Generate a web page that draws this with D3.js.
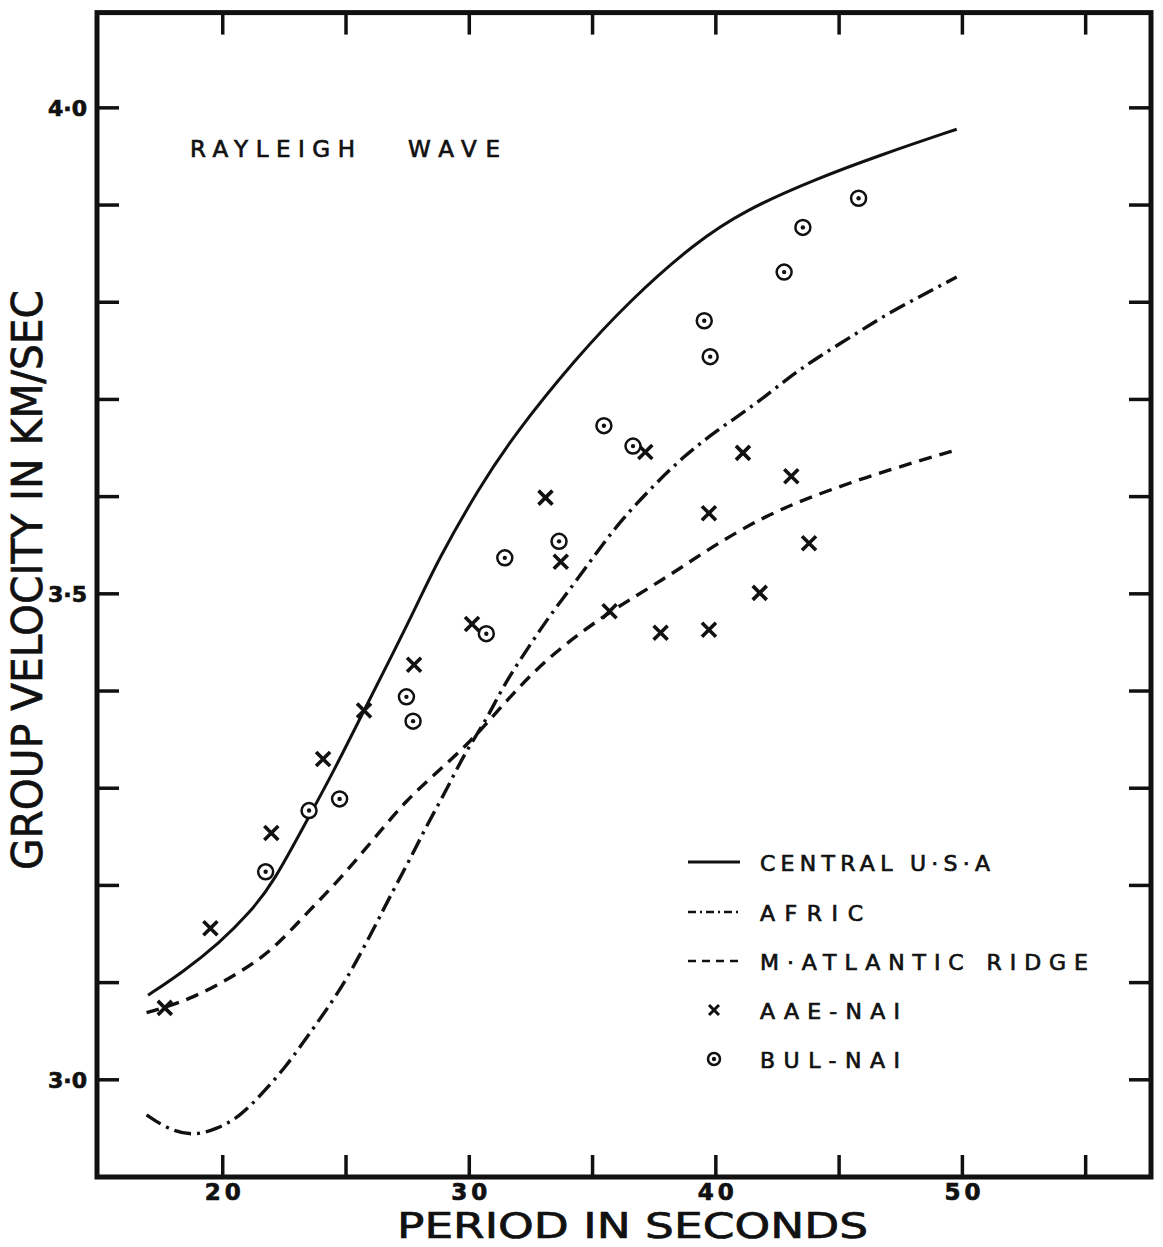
<!DOCTYPE html>
<html lang="en">
<head>
  <meta charset="UTF-8">
  <title>Rayleigh wave group velocity</title>
  <style>
    body { margin: 0; background: #fff; }
    svg { display: block; }
    text { font-family: "DejaVu Sans", sans-serif; fill: #111; stroke: #111; stroke-width: 0.7; }
  </style>
  <script src="https://d3js.org/d3.v7.min.js"></script>
</head>
<body>
  <svg id="chart" width="1163" height="1247"></svg>

  <script>
    // curves: [period (s), group velocity (km/s)]
    const centralUSA = [
      [16.97, 3.087], [18.39, 3.111], [19.88, 3.141], [21.09, 3.172], [22.04, 3.202],
      [23.50, 3.271], [24.47, 3.316], [25.73, 3.380], [26.91, 3.439], [27.85, 3.487],
      [28.73, 3.535], [30.42, 3.610], [31.83, 3.664], [34.31, 3.742], [36.52, 3.802],
      [39.14, 3.861], [41.21, 3.895], [43.97, 3.926], [46.73, 3.952], [49.77, 3.978]
    ];
    const afric = [
      [16.91, 2.964], [17.72, 2.950], [18.73, 2.942], [19.74, 2.949], [20.69, 2.962],
      [21.57, 2.985], [22.58, 3.014], [23.39, 3.043], [24.21, 3.072], [25.02, 3.103],
      [26.10, 3.154], [26.91, 3.195], [27.58, 3.226], [28.26, 3.261], [29.07, 3.298],
      [29.81, 3.336], [30.69, 3.370], [31.37, 3.405], [32.32, 3.442], [33.19, 3.475],
      [34.21, 3.509], [35.15, 3.542], [36.10, 3.574], [37.38, 3.609], [38.67, 3.641],
      [40.03, 3.668], [41.56, 3.694], [42.87, 3.721], [44.11, 3.743], [45.77, 3.769],
      [47.08, 3.790], [48.52, 3.809], [49.77, 3.826]
    ];
    const midAtlantic = [
      [16.91, 3.069], [18.66, 3.082], [20.69, 3.110], [22.04, 3.134], [23.39, 3.171],
      [24.74, 3.206], [26.10, 3.247], [27.45, 3.288], [28.80, 3.319], [30.15, 3.350],
      [31.77, 3.398], [33.39, 3.439], [35.69, 3.482], [37.84, 3.514], [39.87, 3.549],
      [42.05, 3.581], [44.08, 3.602], [46.10, 3.620], [48.13, 3.636], [49.75, 3.648]
    ];

    // observations
    const aaeNai = [
      [17.65, 3.074], [19.50, 3.156], [21.97, 3.254], [24.07, 3.330], [25.73, 3.380],
      [27.76, 3.427], [30.11, 3.469], [33.09, 3.599], [33.71, 3.533], [35.69, 3.482],
      [37.14, 3.646], [37.76, 3.460], [39.72, 3.583], [39.72, 3.463], [41.10, 3.645],
      [41.78, 3.501], [43.06, 3.621], [43.78, 3.552]
    ];
    const bulNai = [
      [21.74, 3.214], [23.50, 3.277], [24.74, 3.289], [27.45, 3.394], [27.72, 3.369],
      [30.69, 3.459], [31.44, 3.537], [33.64, 3.554], [35.46, 3.673], [36.64, 3.652],
      [39.53, 3.781], [39.77, 3.744], [42.77, 3.831], [43.53, 3.877], [45.79, 3.907]
    ];

    const xTicks = [20, 25, 30, 35, 40, 45, 50, 55];
    const xTickLabels = [20, 30, 40, 50];
    const yTicks = [3.0, 3.1, 3.2, 3.3, 3.4, 3.5, 3.6, 3.7, 3.8, 3.9, 4.0];
    const yTickLabels = [3.0, 3.5, 4.0];

    const legendItems = ['CENTRAL U·S·A', 'AFRIC', 'M·ATLANTIC RIDGE', 'AAE-NAI', 'BUL-NAI'];

    const svg = d3.select('#chart');

    const x = d3.scaleLinear().domain([14.9, 57.65]).range([97, 1151]);
    const y = d3.scaleLinear().domain([2.9, 4.098]).range([1177, 12.6]);

    const [x0, x1] = x.range();
    const [y0, y1] = y.range();

    // ticks (inward on all four sides)
    const tickLen = 22;
    const ticks = svg.append('g').attr('stroke', '#111').attr('stroke-width', 3.5);
    xTicks.forEach(t => {
      ticks.append('line').attr('x1', x(t)).attr('x2', x(t)).attr('y1', y0).attr('y2', y0 - tickLen);
      ticks.append('line').attr('x1', x(t)).attr('x2', x(t)).attr('y1', y1).attr('y2', y1 + tickLen);
    });
    yTicks.forEach(t => {
      ticks.append('line').attr('x1', x0).attr('x2', x0 + tickLen).attr('y1', y(t)).attr('y2', y(t));
      ticks.append('line').attr('x1', x1).attr('x2', x1 - tickLen).attr('y1', y(t)).attr('y2', y(t));
    });

    // frame
    svg.append('rect')
      .attr('x', x0).attr('y', y1)
      .attr('width', x1 - x0).attr('height', y0 - y1)
      .attr('fill', 'none').attr('stroke', '#111').attr('stroke-width', 5);

    // tick labels
    svg.append('g').selectAll('text')
      .data(xTickLabels)
      .join('text')
      .attr('x', d => x(d) + 2)
      .attr('y', 1200)
      .attr('text-anchor', 'middle')
      .attr('font-size', 23)
      .attr('font-weight', 'bold')
      .attr('stroke-width', 0)
      .attr('letter-spacing', 4)
      .text(d => d);

    svg.append('g').selectAll('text')
      .data(yTickLabels)
      .join('text')
      .attr('x', 87)
      .attr('y', d => y(d) + 8)
      .attr('text-anchor', 'end')
      .attr('font-size', 22)
      .attr('font-weight', 'bold')
      .attr('stroke-width', 0)
      .text(d => d.toFixed(1).replace('.', '·'));

    // axis titles
    svg.append('text')
      .attr('x', 397).attr('y', 1238)
      .attr('font-size', 35)
      .attr('stroke-width', 1)
      .attr('textLength', 471)
      .attr('lengthAdjust', 'spacingAndGlyphs')
      .text('PERIOD  IN  SECONDS');

    svg.append('text')
      .attr('transform', 'translate(42,870) rotate(-90)')
      .attr('font-size', 42)
      .attr('stroke-width', 1)
      .attr('textLength', 580)
      .attr('lengthAdjust', 'spacingAndGlyphs')
      .text('GROUP  VELOCITY  IN  KM/SEC');

    // panel label
    svg.append('text').attr('x', 190).attr('y', 157).attr('font-size', 23)
      .attr('textLength', 165).attr('lengthAdjust', 'spacing').text('RAYLEIGH');
    svg.append('text').attr('x', 408).attr('y', 157).attr('font-size', 23)
      .attr('textLength', 92).attr('lengthAdjust', 'spacing').text('WAVE');

    // curves
    const line = d3.line()
      .x(d => x(d[0]))
      .y(d => y(d[1]))
      .curve(d3.curveBasis);

    const styles = [
      { data: centralUSA, dash: null, width: 3 },
      { data: afric, dash: '17 6 3 6', width: 3.4 },
      { data: midAtlantic, dash: '13 8', width: 3.4 }
    ];

    svg.append('g').selectAll('path')
      .data(styles)
      .join('path')
      .attr('d', d => line(d.data))
      .attr('fill', 'none')
      .attr('stroke', '#111')
      .attr('stroke-width', d => d.width)
      .attr('stroke-dasharray', d => d.dash);

    // markers
    const cross = (g, s, w) => g.append('path')
      .attr('d', `M${-s},${-s}L${s},${s}M${-s},${s}L${s},${-s}`)
      .attr('stroke', '#111').attr('stroke-width', w).attr('fill', 'none');

    const circ = (g, r) => {
      g.append('circle').attr('r', r).attr('fill', '#fff').attr('stroke', '#111').attr('stroke-width', 2.5);
      g.append('circle').attr('r', 2.2).attr('fill', '#111');
    };

    svg.append('g').selectAll('g')
      .data(aaeNai)
      .join('g')
      .attr('transform', d => `translate(${x(d[0])},${y(d[1])})`)
      .each(function () { cross(d3.select(this), 7, 3.6); });

    svg.append('g').selectAll('g')
      .data(bulNai)
      .join('g')
      .attr('transform', d => `translate(${x(d[0])},${y(d[1])})`)
      .each(function () { circ(d3.select(this), 7.5); });

    // legend
    const legRows = [862, 912, 961, 1010, 1059];
    const leg = svg.append('g');
    legendItems.forEach((label, i) => {
      const ly = legRows[i];
      if (i < 3) {
        leg.append('line')
          .attr('x1', 688).attr('x2', 740).attr('y1', ly).attr('y2', ly)
          .attr('stroke', '#111').attr('stroke-width', i === 0 ? 3 : 2.6)
          .attr('stroke-dasharray', [null, '8 4 2 4', '8 6'][i]);
      } else if (i === 3) {
        cross(leg.append('g').attr('transform', `translate(714,${ly})`), 5, 3);
      } else {
        circ(leg.append('g').attr('transform', `translate(714,${ly})`), 6);
      }
      leg.append('text')
        .attr('x', 760).attr('y', ly + 9)
        .attr('font-size', 22)
        .attr('textLength', [230, 103, 328, 140, 140][i])
        .attr('lengthAdjust', 'spacing')
        .text(label);
    });
  </script>
</body>
</html>
